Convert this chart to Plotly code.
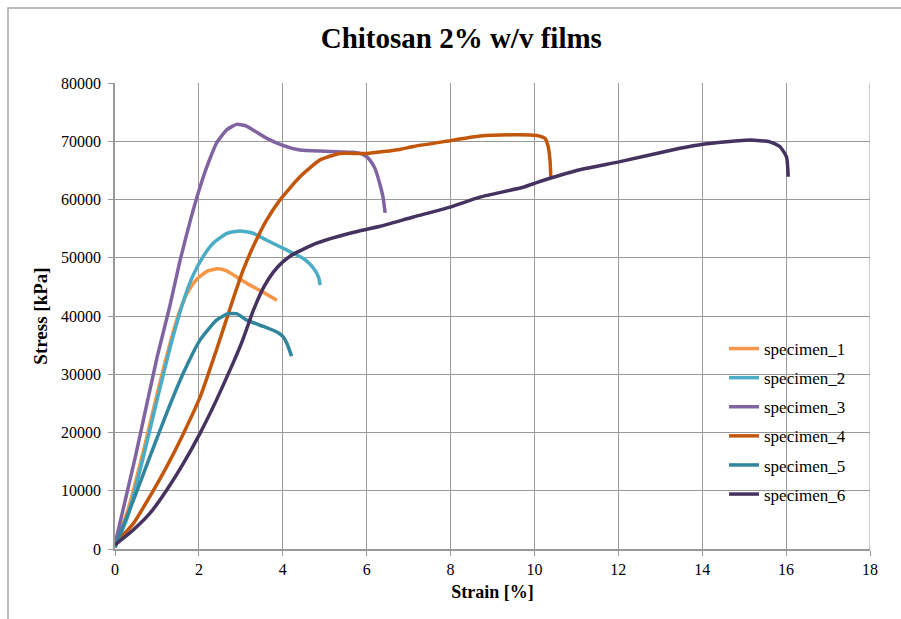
import plotly.graph_objects as go

# Strain [%] / Stress [kPa] readings for each specimen
strain_1 = [0.0, 0.3, 0.7, 1.0, 1.3, 1.55, 1.75, 1.95, 2.2, 2.45, 2.65, 2.9, 3.22, 3.53, 3.86]
stress_1 = [500, 6500, 17500, 26500, 35000, 41000, 44300, 46300, 47700, 48100, 47800, 46700, 45300, 44100, 42700]

strain_2 = [0.0, 0.3, 0.7, 1.0, 1.31, 1.62, 1.85, 2.1, 2.34, 2.67, 2.98, 3.29, 3.62, 4.1, 4.48, 4.65, 4.78, 4.86, 4.89]
stress_2 = [300, 5500, 16500, 25500, 34500, 42300, 46800, 50200, 52500, 54200, 54600, 54200, 53000, 51300, 49900, 48900, 47700, 46500, 45300]

strain_3 = [0.0, 0.5, 1.0, 1.3, 1.55, 1.8, 2.0, 2.2, 2.43, 2.67, 2.9, 3.1, 3.3, 3.62, 4.0, 4.41, 5.0, 5.67, 5.9, 6.05, 6.2, 6.32, 6.39, 6.44]
stress_3 = [800, 16300, 32800, 41500, 49500, 56500, 61500, 65800, 69800, 72000, 72900, 72700, 71900, 70500, 69300, 68500, 68300, 68100, 67800, 67000, 65300, 62500, 60400, 57700]

strain_4 = [0.0, 0.44, 0.83, 1.23, 1.63, 2.03, 2.42, 2.82, 3.05, 3.3, 3.6, 3.93, 4.41, 4.89, 5.36, 6.0, 6.79, 7.11, 7.99, 8.7, 9.49, 10.05, 10.25, 10.33, 10.37, 10.39]
stress_4 = [900, 4400, 9000, 14100, 19800, 26100, 34200, 43000, 47800, 52000, 56300, 59900, 63900, 66800, 67900, 67900, 68600, 69100, 70100, 70900, 71100, 71000, 70500, 69000, 66800, 63900]

strain_5 = [0.0, 0.2, 0.44, 0.83, 1.23, 1.63, 2.03, 2.42, 2.7, 2.9, 3.14, 3.54, 3.85, 4.0, 4.1, 4.21]
stress_5 = [300, 4000, 8400, 15800, 23300, 30200, 35900, 39300, 40400, 40400, 39300, 38200, 37300, 36500, 35300, 33100]

strain_6 = [0.0, 0.44, 0.83, 1.23, 1.63, 2.03, 2.42, 2.82, 3.05, 3.3, 3.55, 3.77, 4.0, 4.25, 4.81, 5.6, 6.32, 7.11, 7.99, 8.7, 9.73, 10.05, 11.08, 12.04, 13.47, 14.02, 15.14, 15.61, 15.85, 16.01, 16.05]
stress_6 = [700, 3300, 6100, 10100, 14700, 19900, 25600, 32000, 36000, 41000, 45000, 47500, 49300, 50600, 52500, 54200, 55400, 57000, 58700, 60400, 62100, 62900, 65100, 66500, 68800, 69500, 70200, 69900, 69100, 67300, 63900]

names = ["specimen_1", "specimen_2", "specimen_3", "specimen_4", "specimen_5", "specimen_6"]
colors = ["#F79646", "#4BACC6", "#8064A2", "#C2570C", "#31859C", "#45325F"]
strains = [strain_1, strain_2, strain_3, strain_4, strain_5, strain_6]
stresses = [stress_1, stress_2, stress_3, stress_4, stress_5, stress_6]

x_ticks = list(range(0, 19, 2))
y_ticks = list(range(0, 80001, 10000))

SERIF = "Liberation Serif"
GRID = "#999999"

fig = go.Figure()
for name, color, xs, ys in zip(names, colors, strains, stresses):
    fig.add_trace(go.Scatter(
        x=xs, y=ys, name=name, mode="lines", legendgroup=name,
        line=dict(color=color, width=3.5, shape="spline", smoothing=0.5),
    ))

fig.update_layout(
    width=901, height=619,
    margin=dict(l=115, r=31, t=83, b=70),
    paper_bgcolor="white", plot_bgcolor="white",
    font=dict(family=SERIF, color="black"),
    title=dict(text="<b>Chitosan 2% w/v films</b>", x=0.512, xanchor="center",
               y=1 - 38 / 619, yanchor="middle",
               font=dict(family=SERIF, size=29, color="black")),
    legend=dict(x=(724 - 115) / 755, y=(549 - 331) / 466, xanchor="left", yanchor="top",
                bgcolor="rgba(0,0,0,0)", font=dict(family=SERIF, size=17, color="black"),
                tracegroupgap=4),
    showlegend=True,
)

fig.update_xaxes(
    range=[0, 18], tickvals=x_ticks, ticktext=[str(v) for v in x_ticks],
    showgrid=True, gridcolor=GRID, gridwidth=1,
    showline=True, linecolor=GRID, linewidth=1.5,
    ticks="outside", ticklen=5, tickcolor=GRID,
    tickfont=dict(family=SERIF, size=16, color="black"),
    title=dict(text="<b>Strain [%]</b>", font=dict(family=SERIF, size=18, color="black"), standoff=8),
    zeroline=False,
)
fig.update_yaxes(
    range=[0, 80000], tickvals=y_ticks, ticktext=[str(v) for v in y_ticks],
    showgrid=True, gridcolor=GRID, gridwidth=1,
    showline=True, linecolor=GRID, linewidth=1.5,
    ticks="outside", ticklen=5, tickcolor=GRID, ticklabelstandoff=4,
    tickfont=dict(family=SERIF, size=16, color="black"),
    title=dict(text="<b>Stress [kPa]</b>", font=dict(family=SERIF, size=19, color="black"), standoff=8),
    zeroline=False,
)

# outer chart frame (left and top edges visible)
fig.add_shape(type="rect", xref="paper", yref="paper",
              x0=(8 - 115) / 755, x1=(960 - 115) / 755,
              y0=(549 - 660) / 466, y1=(549 - 8) / 466,
              line=dict(color="#A6A6A6", width=1.5), fillcolor="rgba(0,0,0,0)", layer="below")
# right edge of the outer plot grid
fig.add_shape(type="line", xref="x", yref="y", x0=18, x1=18, y0=0, y1=80000,
              line=dict(color=GRID, width=1))

fig.write_html("out.html")
